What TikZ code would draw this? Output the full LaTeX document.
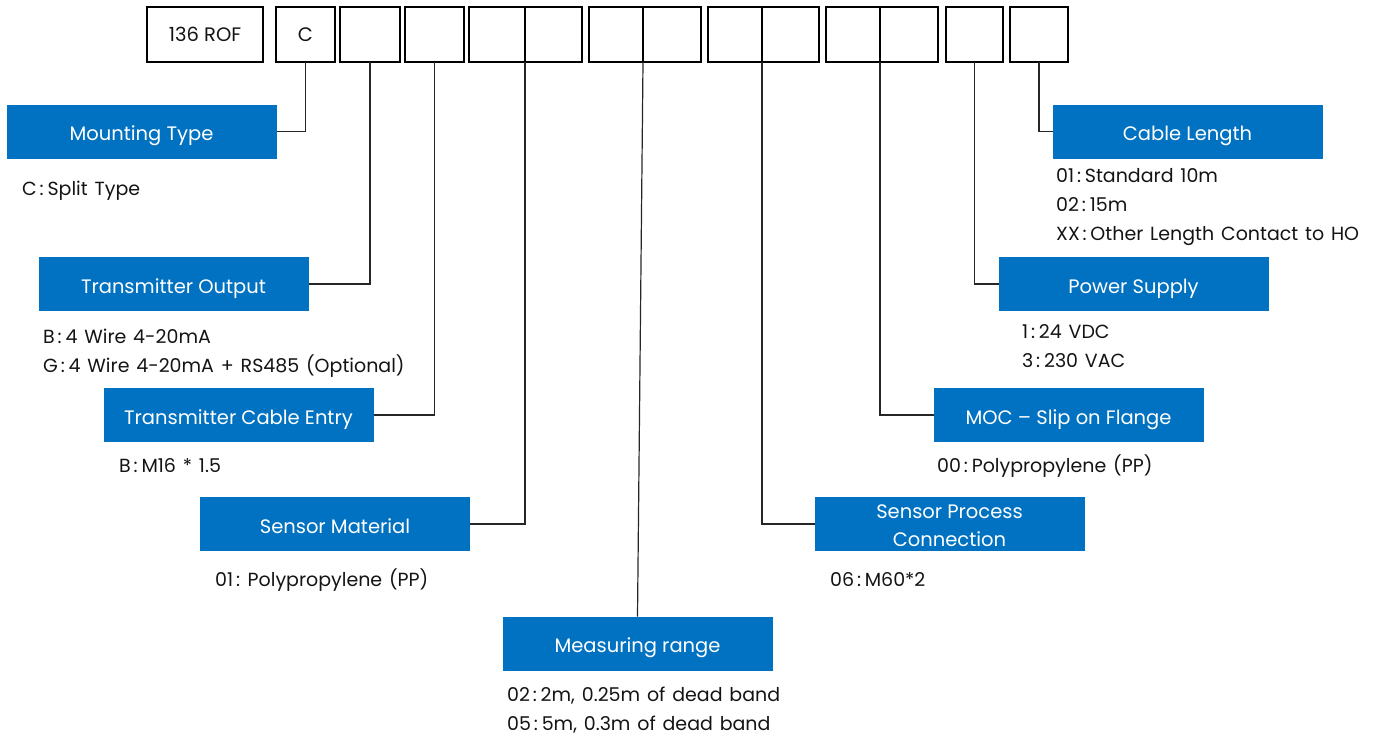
\documentclass[tikz,border=0pt]{standalone}
\usepackage{fontspec}
\setmainfont{Poppins}
\definecolor{hoblue}{RGB}{0,114,193}
\definecolor{txt}{RGB}{20,20,20}
\newcommand\myoptfont{\fontsize{19}{20}\selectfont\spaceskip=0.36em plus 0.1em\relax}
\newcommand\cln{\kern0.15em:\kern0.2em}
\tikzset{
  codebox/.style={draw=black, line width=1.4pt, minimum height=55pt, inner sep=0pt, outer sep=0pt, font=\fontsize{19.5}{22}\selectfont, text=txt},
  bluebase/.style={fill=hoblue, minimum width=270pt, minimum height=54pt, inner sep=0pt, outer sep=0pt, text=white, font=\fontsize{19.5}{28}\selectfont, align=center},
  bluebox/.style={bluebase, text height=18.6pt, text depth=0pt},
  opt/.style={anchor=base west, inner sep=0pt, text=txt, font=\myoptfont},
  link/.style={draw=black!85, line width=1.2pt}
}
\begin{document}
\begin{tikzpicture}[x=1pt,y=-1pt]
\useasboundingbox (0,0) rectangle (1388,736);
% top code boxes
\node[codebox, minimum width=116pt] (b1) at (205,34.5) {136 ROF};
\node[codebox, minimum width=59pt] (b2) at (305.5,34.5) {C};
\node[codebox, minimum width=60pt] (b3) at (370,34.5) {};
\node[codebox, minimum width=59pt] (b4) at (434.5,34.5) {};
\node[codebox, minimum width=56pt] (b5a) at (497,34.5) {};
\node[codebox, minimum width=57pt] (b5b) at (553.5,34.5) {};
\node[codebox, minimum width=54pt] (b6a) at (616,34.5) {};
\node[codebox, minimum width=58pt] (b6b) at (672,34.5) {};
\node[codebox, minimum width=54pt] (b7a) at (735,34.5) {};
\node[codebox, minimum width=57pt] (b7b) at (790.5,34.5) {};
\node[codebox, minimum width=54pt] (b8a) at (853,34.5) {};
\node[codebox, minimum width=58pt] (b8b) at (909,34.5) {};
\node[codebox, minimum width=57pt] (b9) at (974.5,34.5) {};
\node[codebox, minimum width=58pt] (b10) at (1039,34.5) {};
% blue label boxes
\node[bluebox] (mt) at (141.5,131.5) {Mounting Type};
\node[bluebox] (to) at (173.5,284) {Transmitter Output};
\node[bluebox] (tce) at (238.5,415) {Transmitter Cable Entry};
\node[bluebox] (sm) at (335,524) {Sensor Material};
\node[bluebox] (mr) at (637.5,643.5) {Measuring range};
\node[bluebase] (spc) at (949.5,524) {\rule{0pt}{17pt}Sensor Process\\Connection};
\node[bluebox] (moc) at (1068.5,415) {MOC -- Slip on Flange};
\node[bluebox] (ps) at (1133.5,284) {Power Supply};
\node[bluebox] (cl) at (1187.5,131.5) {Cable Length};
% connectors
\draw[link] (mt.east) -| (b2.south);
\draw[link] (to.east) -| (b3.south);
\draw[link] (tce.east) -| (b4.south);
\draw[link] (sm.east) -| (b5a.south east);
\draw[link] (b6a.south east) -- (mr.north);
\draw[link] (spc.west) -| (b7a.south east);
\draw[link] (moc.west) -| (b8a.south east);
\draw[link] (ps.west) -| (b9.south);
\draw[link] (cl.west) -| (b10.south);
% option texts
\node[opt] (o1) at (22,195) {C\cln Split Type};
\node[opt] (o2) at (43,343) {B\cln 4 Wire 4-20mA};
\node[opt] (o3) at (43,372) {G\cln 4 Wire 4-20mA + RS485 (Optional)};
\node[opt] (o4) at (119,472) {B\cln M16 * 1.5};
\node[opt] (o5) at (215,586) {01\cln\kern0.2em Polypropylene (PP)};
\node[opt] (o6) at (507,701) {02\cln 2m, 0.25m of dead band};
\node[opt] (o7) at (507,730) {05\cln 5m, 0.3m of dead band};
\node[opt] (o8) at (830,586) {06\cln M60*2};
\node[opt] (o9) at (937,472) {00\cln Polypropylene (PP)};
\node[opt] (o10) at (1022,338) {1\cln 24 VDC};
\node[opt] (o11) at (1022,367) {3\cln 230 VAC};
\node[opt] (o12) at (1056,182) {01\cln Standard 10m};
\node[opt] (o13) at (1056,211) {02\cln 15m};
\node[opt] (o14) at (1056,240) {XX\cln Other Length Contact to HO};
\end{tikzpicture}
\end{document}
